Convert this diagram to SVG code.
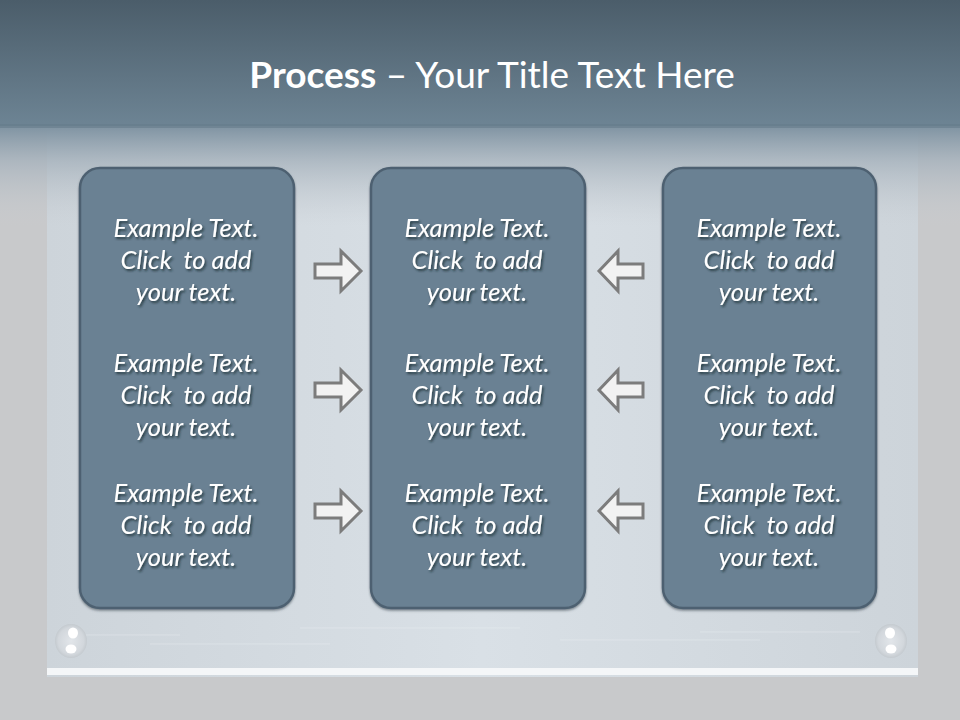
<svg xmlns="http://www.w3.org/2000/svg" width="960" height="720" viewBox="0 0 960 720">
<defs>
<linearGradient id="hdr" x1="0" y1="0" x2="0" y2="1">
<stop offset="0" stop-color="#4b5d6a"/>
<stop offset="1" stop-color="#6d8494"/>
</linearGradient>
<linearGradient id="fade" x1="0" y1="0" x2="0" y2="1">
<stop offset="0" stop-color="#7f93a2" stop-opacity="1"/>
<stop offset="0.35" stop-color="#a6b2bc" stop-opacity="0.8"/>
<stop offset="1" stop-color="#c8cdd2" stop-opacity="0"/>
</linearGradient>
<linearGradient id="plate" x1="0" y1="0" x2="1" y2="0">
<stop offset="0" stop-color="#cdd4da"/>
<stop offset="0.5" stop-color="#d9e0e6"/>
<stop offset="1" stop-color="#cdd4da"/>
</linearGradient>
<filter id="ts" x="-10%" y="-30%" width="120%" height="160%">
<feDropShadow dx="1.5" dy="2" stdDeviation="1.2" flood-color="#1e2a33" flood-opacity="0.8"/>
</filter>
<filter id="bs" x="-10%" y="-10%" width="120%" height="120%">
<feDropShadow dx="0" dy="1.5" stdDeviation="1" flood-color="#3a4852" flood-opacity="0.6"/>
</filter>
<radialGradient id="scr" cx="0.5" cy="0.5" r="0.5">
<stop offset="0" stop-color="#e2e6ea"/>
<stop offset="0.8" stop-color="#d2d7dc"/>
<stop offset="1" stop-color="#c4cacf"/>
</radialGradient>
</defs>
<style>
.box{fill:#6a8193;stroke:#4e6171;stroke-width:2.5}
.t{font-family:Lato,"Open Sans","Liberation Sans",sans-serif;font-style:italic;font-size:25.5px;fill:#ffffff;text-anchor:middle}
.arr{fill:#f2f2f2;stroke:#7c7c7c;stroke-width:3;stroke-linejoin:miter}
.streak{stroke:#eef2f5;stroke-width:1;opacity:0.35}
</style>
<!-- background -->
<rect x="0" y="0" width="960" height="720" fill="#c8c9cb"/>
<rect x="47" y="126" width="871" height="551" fill="url(#plate)"/>
<rect x="0" y="126" width="960" height="100" fill="url(#fade)"/>
<g class="streak">
<line x1="80" y1="635" x2="180" y2="635"/>
<line x1="150" y1="644" x2="330" y2="644"/>
<line x1="300" y1="628" x2="520" y2="628"/>
<line x1="560" y1="640" x2="760" y2="640"/>
<line x1="700" y1="632" x2="860" y2="632"/>
</g>
<rect x="47" y="668" width="871" height="7" fill="#f4f6f8"/>
<rect x="0" y="0" width="960" height="126" fill="url(#hdr)"/>
<rect x="0" y="124" width="960" height="4" fill="#667b8a" opacity="0.6"/>
<!-- screws -->
<g id="screw-left">
<ellipse cx="71" cy="641" rx="16" ry="17" fill="url(#scr)"/>
<ellipse cx="73" cy="633" rx="5" ry="5.5" fill="#ffffff"/>
<ellipse cx="71" cy="649" rx="5.5" ry="4.5" fill="#ffffff"/>
</g>
<g id="screw-right">
<ellipse cx="891" cy="641" rx="16" ry="17" fill="url(#scr)"/>
<ellipse cx="890" cy="633" rx="5" ry="5.5" fill="#ffffff"/>
<ellipse cx="891" cy="649" rx="5.5" ry="4.5" fill="#ffffff"/>
</g>
<!-- title -->
<g id="title">
<text x="492" y="88" text-anchor="middle" font-family="Lato,'Open Sans','Liberation Sans',sans-serif" font-size="37" fill="#ffffff"><tspan font-weight="bold">Process</tspan> – Your Title Text Here</text>
</g>
<!-- boxes -->
<g id="box-left">
<rect class="box" x="80" y="168" width="214" height="440" rx="20" filter="url(#bs)"/>
<g class="t" filter="url(#ts)">
<text x="186" y="237">Example Text.</text>
<text x="186" y="269">Click&#160; to add</text>
<text x="186" y="301">your text.</text>
<text x="186" y="372">Example Text.</text>
<text x="186" y="404">Click&#160; to add</text>
<text x="186" y="436">your text.</text>
<text x="186" y="502">Example Text.</text>
<text x="186" y="534">Click&#160; to add</text>
<text x="186" y="566">your text.</text>
</g>
</g>
<g id="box-middle">
<rect class="box" x="371" y="168" width="214" height="440" rx="20" filter="url(#bs)"/>
<g class="t" filter="url(#ts)">
<text x="477" y="237">Example Text.</text>
<text x="477" y="269">Click&#160; to add</text>
<text x="477" y="301">your text.</text>
<text x="477" y="372">Example Text.</text>
<text x="477" y="404">Click&#160; to add</text>
<text x="477" y="436">your text.</text>
<text x="477" y="502">Example Text.</text>
<text x="477" y="534">Click&#160; to add</text>
<text x="477" y="566">your text.</text>
</g>
</g>
<g id="box-right">
<rect class="box" x="663" y="168" width="213" height="440" rx="20" filter="url(#bs)"/>
<g class="t" filter="url(#ts)">
<text x="769" y="237">Example Text.</text>
<text x="769" y="269">Click&#160; to add</text>
<text x="769" y="301">your text.</text>
<text x="769" y="372">Example Text.</text>
<text x="769" y="404">Click&#160; to add</text>
<text x="769" y="436">your text.</text>
<text x="769" y="502">Example Text.</text>
<text x="769" y="534">Click&#160; to add</text>
<text x="769" y="566">your text.</text>
</g>
</g>
<!-- connectors -->
<g id="connectors">
<path id="arrow-r1" class="arr" d="M315 264 H341 V251 L361 271 L341 291 V278 H315 Z"/>
<path id="arrow-r2" class="arr" d="M315 383 H341 V370 L361 390 L341 410 V397 H315 Z"/>
<path id="arrow-r3" class="arr" d="M315 504 H341 V491 L361 511 L341 531 V518 H315 Z"/>
<path id="arrow-l1" class="arr" d="M643 264 H618 V251 L599 271 L618 291 V278 H643 Z"/>
<path id="arrow-l2" class="arr" d="M643 383 H618 V370 L599 390 L618 410 V397 H643 Z"/>
<path id="arrow-l3" class="arr" d="M643 504 H618 V491 L599 511 L618 531 V518 H643 Z"/>
</g>
</svg>
